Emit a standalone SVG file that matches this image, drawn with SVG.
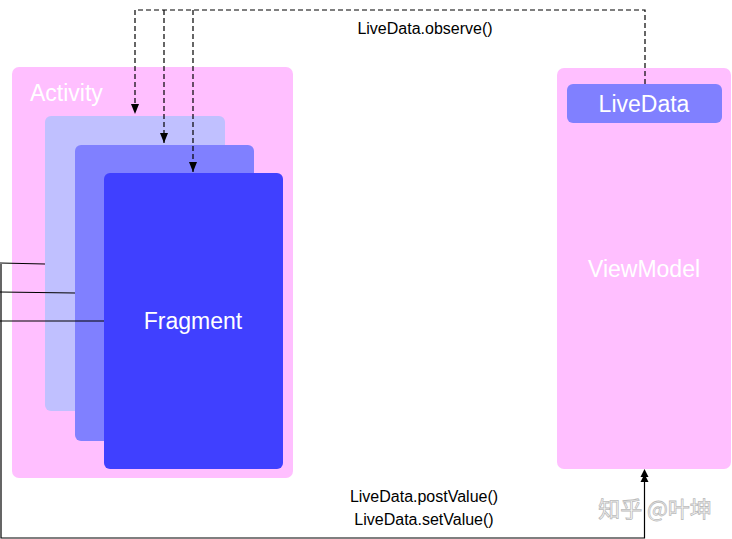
<svg xmlns="http://www.w3.org/2000/svg" width="732" height="539" viewBox="0 0 732 539">
<style>
.lbl{font-family:"Helvetica","Liberation Sans",Arial,sans-serif;font-size:16px;fill:#000}
.wt{font-family:"Helvetica","Liberation Sans",Arial,sans-serif;font-size:23px;fill:#fff}
.dash{fill:none;stroke:#000;stroke-width:1.2;stroke-dasharray:5,3}
.solid{fill:none;stroke:#000;stroke-width:1.2}
</style>
<defs>
<marker id="ah" markerWidth="10" markerHeight="8" refX="10" refY="4" orient="auto" markerUnits="userSpaceOnUse" viewBox="0 0 10 8">
<path d="M0,0 L10,4 L0,8 Z" fill="#000"/>
</marker>
</defs>
<rect width="732" height="539" fill="#fff"/>
<g id="activity">
<rect x="12" y="67" width="281" height="411" rx="7" fill="#FFBFFF"/>
<text class="wt" x="30" y="101">Activity</text>
</g>
<g id="fragment1"><rect x="45" y="116" width="180" height="295" rx="6" fill="#C0C0FF"/></g>
<g id="fragment2"><rect x="75" y="145" width="179" height="296" rx="6" fill="#8080FF"/></g>
<g id="fragment3">
<rect x="104" y="173" width="179" height="296" rx="6" fill="#4040FF"/>
<text class="wt" x="193" y="329" text-anchor="middle">Fragment</text>
</g>
<g id="viewmodel">
<rect x="557" y="68" width="174" height="401" rx="7" fill="#FFBFFF"/>
<text class="wt" x="644" y="277" text-anchor="middle">ViewModel</text>
</g>
<g id="livedata">
<rect x="567" y="84" width="155" height="39" rx="6" fill="#8080FF"/>
<text class="wt" x="644" y="112" text-anchor="middle">LiveData</text>
</g>
<g id="connectors">
<path class="dash" d="M645,84 V10 H135 V114" marker-end="url(#ah)"/>
<path class="dash" d="M164,10 V143" marker-end="url(#ah)"/>
<path class="dash" d="M193,10 V172" marker-end="url(#ah)"/>
<path class="solid" d="M0,263 L45,264"/>
<path class="solid" d="M0,292 L75,293"/>
<path class="solid" d="M0,321 L104,321"/>
<path class="solid" d="M1,264 V538 H644.5 V476"/>
<path d="M644.5,469 l4,8 h-8 Z M644.5,474 l4,8 h-8 Z" fill="#000"/>
</g>
<g id="labels">
<text class="lbl" x="425" y="34" text-anchor="middle">LiveData.observe()</text>
<text class="lbl" x="424" y="502" text-anchor="middle">LiveData.postValue()</text>
<text class="lbl" x="424" y="525" text-anchor="middle">LiveData.setValue()</text>
<text x="655" y="517" text-anchor="middle" style="font-family:'Noto Sans CJK SC',sans-serif;font-size:22px;fill:#fff;stroke:#bbb;stroke-width:0.8">知乎 @叶坤</text>
</g>
</svg>
